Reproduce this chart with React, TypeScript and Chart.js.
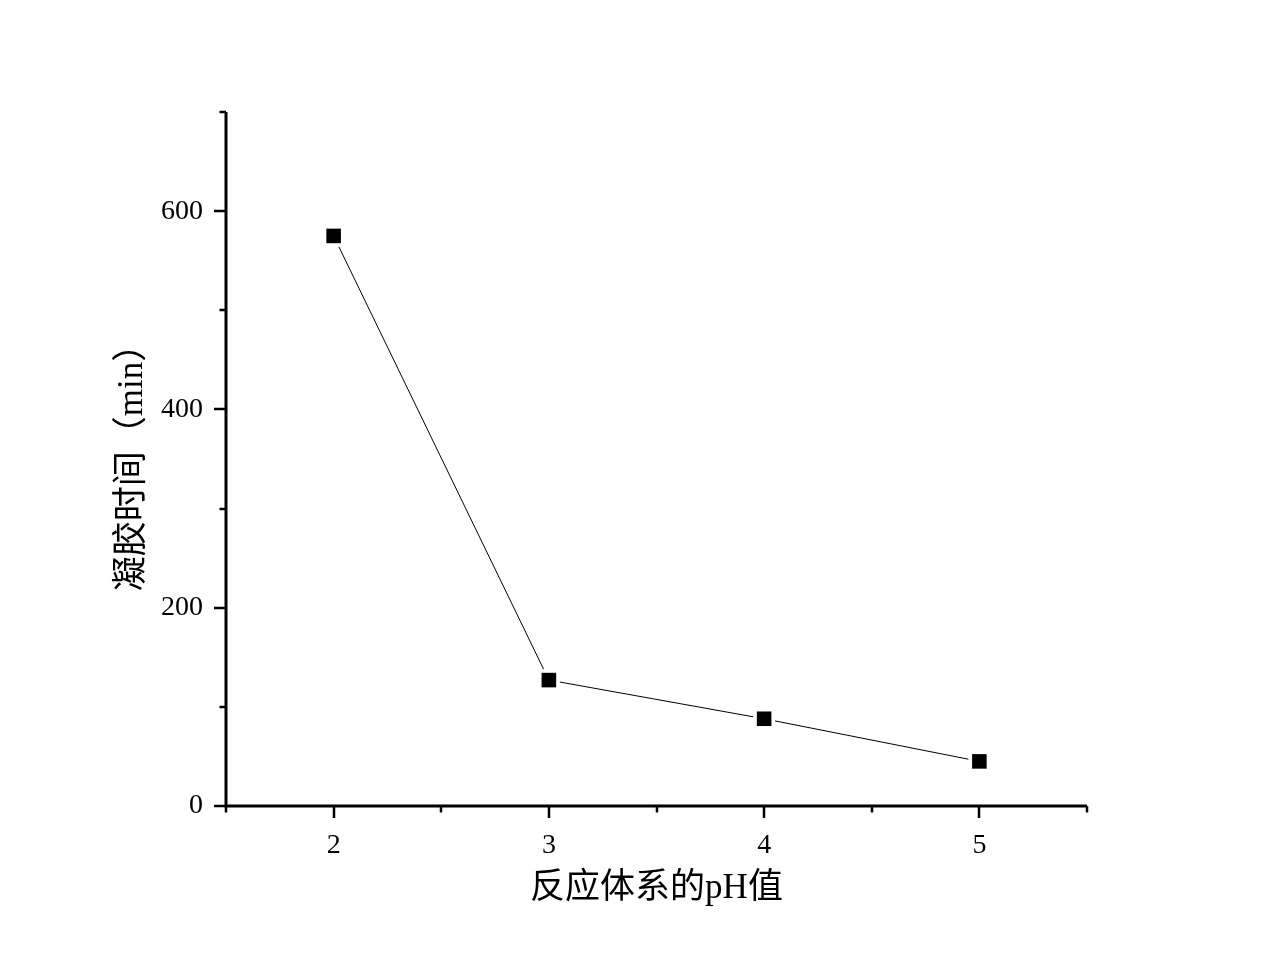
import React, { useEffect, useRef } from 'react';
import { Chart, registerables } from 'chart.js';

Chart.register(...registerables);

const phValues = [2, 3, 4, 5];
const gelTimes = [575, 127, 88, 45];
const xMajorTicks = [2, 3, 4, 5];
const xMinorTicks = [1.5, 2.5, 3.5, 4.5, 5.5];
const yMajorTicks = [0, 200, 400, 600];
const yMinorTicks = [100, 300, 500, 700];
const xTitle = '反应体系的pH值';
const yTitle = '凝胶时间（min）';

const W = 1263;
const H = 966;
const FONT = '"Liberation Serif", "Noto Sans CJK SC", serif';

const axesPlugin = {
  id: 'originAxes',
  afterDraw(chart: any) {
    const { ctx, chartArea, scales } = chart;
    const xs = scales.x;
    const ys = scales.y;
    const { left, right, top, bottom } = chartArea;
    ctx.save();
    ctx.strokeStyle = '#000';
    ctx.lineCap = 'butt';
    ctx.lineWidth = 2.5;
    ctx.beginPath();
    xMajorTicks.forEach((v) => {
      const p = Math.round(xs.getPixelForValue(v));
      ctx.moveTo(p, bottom);
      ctx.lineTo(p, bottom + 12);
    });
    xMinorTicks.forEach((v) => {
      const p = Math.round(xs.getPixelForValue(v));
      ctx.moveTo(p, bottom);
      ctx.lineTo(p, bottom + 6.5);
    });
    yMajorTicks.forEach((v) => {
      const p = Math.round(ys.getPixelForValue(v));
      ctx.moveTo(left, p);
      ctx.lineTo(left - 12, p);
    });
    yMinorTicks.forEach((v) => {
      const p = Math.round(ys.getPixelForValue(v));
      ctx.moveTo(left, p);
      ctx.lineTo(left - 6.5, p);
    });
    ctx.stroke();
    ctx.lineWidth = 3;
    ctx.beginPath();
    ctx.moveTo(left, top);
    ctx.lineTo(left, bottom);
    ctx.lineTo(right, bottom);
    ctx.stroke();
    ctx.restore();
  },
};

export default function App() {
  const ref = useRef<HTMLCanvasElement | null>(null);

  useEffect(() => {
    if (!ref.current) return;
    const pts = phValues.map((x, i) => ({ x, y: gelTimes[i] }));
    const chart = new Chart(ref.current, {
      type: 'line',
      data: {
        datasets: [
          {
            data: pts,
            showLine: false,
            pointStyle: 'rect',
            pointRadius: 10.3,
            pointBackgroundColor: '#000',
            pointBorderWidth: 0,
            pointBorderColor: '#000',
          },
          {
            data: pts,
            showLine: false,
            pointStyle: 'rect',
            pointRadius: 15.5,
            pointBackgroundColor: '#fff',
            pointBorderWidth: 0,
            pointBorderColor: '#fff',
          },
          {
            data: pts,
            borderColor: '#000',
            borderWidth: 1,
            pointRadius: 0,
            tension: 0,
          },
        ],
      },
      options: {
        responsive: false,
        animation: false,
        layout: { padding: { left: 0, top: 112, right: W - 1087, bottom: 0 } },
        plugins: { legend: { display: false }, tooltip: { enabled: false } },
        scales: {
          x: {
            type: 'linear',
            min: 1.5,
            max: 5.5,
            afterBuildTicks: (s: any) => {
              s.ticks = xMajorTicks.map((v) => ({ value: v }));
            },
            afterFit: (s: any) => {
              s.height = H - 806;
            },
            grid: { display: false, drawTicks: false },
            border: { display: false },
            ticks: {
              color: '#000',
              padding: 23,
              maxRotation: 0,
              font: { family: FONT, size: 28 },
              callback: (v: any) => String(v),
            },
            title: {
              display: true,
              text: xTitle,
              color: '#000',
              font: { family: FONT, size: 35 },
              padding: { top: 0, bottom: 56 },
            },
          },
          y: {
            type: 'linear',
            min: 0,
            max: 700,
            afterBuildTicks: (s: any) => {
              s.ticks = yMajorTicks.map((v) => ({ value: v }));
            },
            afterFit: (s: any) => {
              s.width = 226;
            },
            grid: { display: false, drawTicks: false },
            border: { display: false },
            ticks: {
              color: '#000',
              padding: 23,
              font: { family: FONT, size: 28 },
              callback: (v: any) => String(v),
            },
            title: {
              display: true,
              text: yTitle,
              color: '#000',
              font: { family: FONT, size: 35 },
              padding: { top: 112, bottom: 0 },
            },
          },
        },
      },
      plugins: [axesPlugin],
    });
    return () => chart.destroy();
  }, []);

  return (
    <div style={{ position: 'absolute', left: 0, top: 0, width: W, height: H, background: '#fff' }}>
      <canvas ref={ref} width={W} height={H} style={{ width: W, height: H, display: 'block' }} />
    </div>
  );
}
